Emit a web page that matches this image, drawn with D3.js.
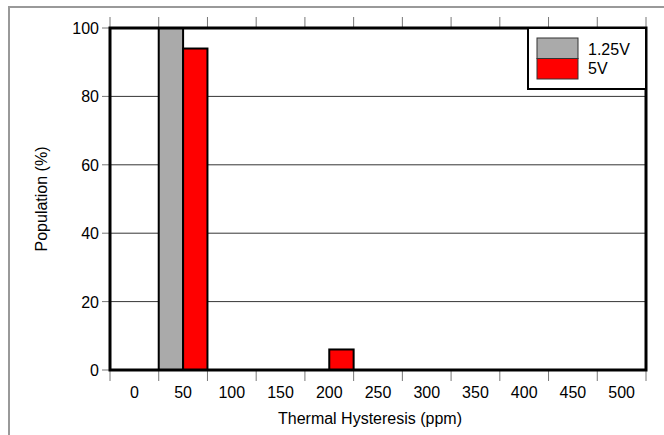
<!DOCTYPE html><html><head><script src="https://cdn.jsdelivr.net/npm/d3@7"></script>
<style>body{margin:0}text{font-family:Arial,"Liberation Sans",sans-serif}</style></head><body><script>
const categories=["0","50","100","150","200","250","300","350","400","450","500"];
const series=["1.25V","5V"];
const colors=["#aaaaaa","#ff0000"];
const v125=[0,100,0,0,0,0,0,0,0,0,0];
const v5=[0,94,0,0,6,0,0,0,0,0,0];
const yTicks=[0,20,40,60,80,100];
const W=664,H=435,L=110,R=646,T=28,B=370,FS=16;
const svg=d3.select("body").append("svg").attr("width",W).attr("height",H);
svg.append("path").attr("d",`M9,${H}V7H${W}`).attr("fill","none").attr("stroke","#999").attr("stroke-width",2);
const x=d3.scaleBand().domain(categories).range([L,R]);
const y=d3.scaleLinear().domain([0,100]).range([B,T]);
svg.append("g").selectAll("line").data(yTicks).join("line").attr("x1",L).attr("x2",R).attr("y1",d=>y(d)).attr("y2",d=>y(d)).attr("stroke","#000").attr("stroke-width",0.8);
const bounds=categories.map(c=>x(c)).concat([R]);
svg.append("g").selectAll("line").data(bounds).join("line").attr("x1",d=>d).attr("x2",d=>d).attr("y1",B).attr("y2",B+11).attr("stroke","#777");
svg.append("g").selectAll("line").data(bounds).join("line").attr("x1",d=>d).attr("x2",d=>d).attr("y1",T-11).attr("y2",T).attr("stroke","#777");
svg.append("g").selectAll("line").data(yTicks).join("line").attr("x1",L-8).attr("x2",L).attr("y1",d=>y(d)).attr("y2",d=>y(d)).attr("stroke","#777");
svg.append("g").selectAll("text").data(yTicks).join("text").attr("x",L-11).attr("y",d=>y(d)+6).attr("text-anchor","end").attr("font-size",FS).text(d=>d);
svg.append("g").selectAll("text").data(categories).join("text").attr("x",d=>x(d)+x.bandwidth()/2).attr("y",B+28).attr("text-anchor","middle").attr("font-size",FS).text(d=>d);
[v125,v5].forEach((vals,si)=>{
 svg.append("g").selectAll("rect").data(categories.map((c,i)=>({c,v:vals[i]})).filter(d=>d.v>0)).join("rect")
 .attr("x",d=>x(d.c)+(si===0?0:x.bandwidth()/2)).attr("width",x.bandwidth()/2)
 .attr("y",d=>y(d.v)).attr("height",d=>B-y(d.v)).attr("fill",colors[si]).attr("stroke","#000").attr("stroke-width",2);
});
svg.append("rect").attr("x",L).attr("y",T).attr("width",R-L).attr("height",B-T).attr("fill","none").attr("stroke","#000").attr("stroke-width",3);
const lg=svg.append("g");
lg.append("rect").attr("x",528).attr("y",T).attr("width",R-528).attr("height",61).attr("fill","#fff").attr("stroke","#000").attr("stroke-width",2);
series.forEach((s,i)=>{
 lg.append("rect").attr("x",537).attr("y",38+i*20.5).attr("width",41).attr("height",20.5).attr("fill",colors[i]).attr("stroke","#333").attr("stroke-width",1);
 lg.append("text").attr("x",588).attr("y",55+i*19).attr("font-size",FS).text(s);
});
svg.append("text").attr("x",370).attr("y",424).attr("text-anchor","middle").attr("font-size",FS).text("Thermal Hysteresis (ppm)");
svg.append("text").attr("transform",`translate(47,${(T+B)/2}) rotate(-90)`).attr("text-anchor","middle").attr("font-size",FS).text("Population (%)");
</script></body></html>
